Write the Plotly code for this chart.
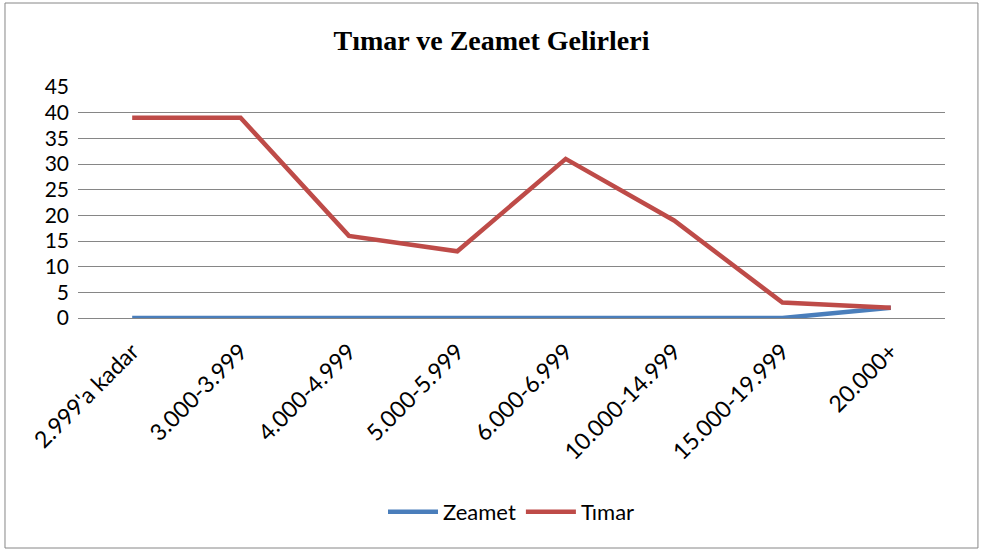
import plotly.graph_objects as go

categories = ["2.999'a kadar", "3.000-3.999", "4.000-4.999", "5.000-5.999",
              "6.000-6.999", "10.000-14.999", "15.000-19.999", "20.000+"]
zeamet = [0, 0, 0, 0, 0, 0, 0, 2]
timar = [39, 39, 16, 13, 31, 19, 3, 2]
y_ticks = [0, 5, 10, 15, 20, 25, 30, 35, 40, 45]

font_main = "Lato, Carlito, 'Open Sans', sans-serif"

fig = go.Figure()
fig.add_trace(go.Scatter(x=categories, y=zeamet, name="Zeamet", mode="lines",
                         line=dict(color="#4A7EBB", width=4.5)))
fig.add_trace(go.Scatter(x=categories, y=timar, name="Tımar", mode="lines",
                         line=dict(color="#BE4B48", width=4.5)))

fig.update_layout(
    width=983, height=554,
    margin=dict(l=78, r=38, t=87, b=236),
    paper_bgcolor="white", plot_bgcolor="white",
    title=dict(text="<b>Tımar ve Zeamet Gelirleri</b>", x=0.5, xanchor="center",
               y=1 - 40 / 554, yanchor="middle",
               font=dict(family="'Liberation Serif', 'Times New Roman', serif", size=28, color="black")),
    font=dict(family=font_main, color="black"),
    showlegend=True,
    legend=dict(orientation="h", x=0.5, xanchor="center", y=-0.84, yanchor="middle",
                font=dict(size=22, family=font_main), itemwidth=50, traceorder="normal"),
    xaxis=dict(type="category", tickangle=-45, tickfont=dict(size=23),
               showgrid=False, showline=True, linecolor="#868686", linewidth=1,
               ticks="", range=[-0.5, 7.5], automargin=False, ticklabelstandoff=10),
    yaxis=dict(range=[0, 45], tickvals=y_ticks, tickfont=dict(size=21),
               showgrid=True, gridcolor="#868686", gridwidth=1, zeroline=False,
               showline=False, ticks="", ticklabelstandoff=8, automargin=False),
    shapes=[dict(type="rect", xref="paper", yref="paper",
                 x0=-0.0842, x1=1.038, y0=-0.9957, y1=1.3636,
                 line=dict(color="#868686", width=1), fillcolor="rgba(0,0,0,0)", layer="below")],
)

fig.write_html("out.html", config={"displayModeBar": False},
               post_script="document.body.style.margin='0';document.body.style.overflow='hidden';")
